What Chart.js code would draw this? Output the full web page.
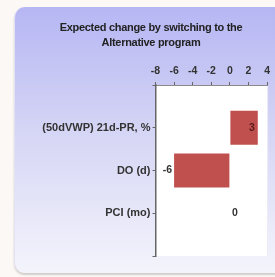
<!DOCTYPE html>
<html>
<head>
<meta charset="utf-8">
<script src="https://cdn.jsdelivr.net/npm/chart.js@4.4.1/dist/chart.umd.min.js"></script>
<style>
    html, body { margin: 0; padding: 0; background: #fcf8f5; }
    #wrap { position: relative; width: 275px; height: 277px; overflow: hidden; }
    #card {
        position: absolute; left: 14px; top: 7px; width: 290px; height: 266px;
        border-radius: 11px;
        background: linear-gradient(to bottom, #b6b6f4 0%, #d4d4f5 45%, #f4f4fc 100%);
        box-shadow: 0 2px 2px rgba(0, 0, 0, 0.18);
        border-left: 1px solid #e2e2f0;
    }
    #chart { position: absolute; left: 0; top: 0; }
</style>
</head>
<body>
<div id="wrap">
    <div id="card"></div>
    <canvas id="chart" width="275" height="277"></canvas>
</div>
<script>
// Data
const categorias = ['', '(50dVWP) 21d-PR, %', 'DO (d)', 'PCI (mo)', ''];
const valores = [null, 3, -6, 0, null];
const tituloLinhas = ['Expected change by switching to the', 'Alternative program'];
const eixoMin = -8;
const eixoMax = 4;
const eixoPasso = 2;

const FONTE = '"Liberation Sans", Arial, sans-serif';
const corBarra = '#c0504d';

// título centrado no cartão (o cartão passa da borda direita)
const tituloCartao = {
    id: 'tituloCartao',
    afterDraw(chart) {
        const { ctx } = chart;
        ctx.save();
        ctx.font = 'bold 11px ' + FONTE;
        ctx.letterSpacing = '-0.3px';
        ctx.fillStyle = '#222222';
        ctx.textAlign = 'center';
        ctx.textBaseline = 'middle';
        tituloLinhas.forEach((linha, i) => {
            ctx.fillText(linha, 151, 27.5 + i * 15);
        });
        ctx.restore();
    }
};

// fundo branco da área do gráfico
const fundoPlot = {
    id: 'fundoPlot',
    beforeDraw(chart) {
        const { ctx, chartArea: a } = chart;
        ctx.save();
        ctx.fillStyle = '#ffffff';
        ctx.fillRect(a.left, a.top, a.right - a.left, a.bottom - a.top);
        ctx.strokeStyle = '#ececf4';
        ctx.lineWidth = 1;
        ctx.beginPath();
        ctx.moveTo(a.right + 0.5, a.top);
        ctx.lineTo(a.right + 0.5, a.bottom);
        ctx.stroke();
        ctx.restore();
    }
};

// rótulos de valor nas barras
const rotulosValor = {
    id: 'rotulosValor',
    afterDatasetsDraw(chart) {
        const { ctx } = chart;
        const meta = chart.getDatasetMeta(0);
        const zero = chart.scales.x.getPixelForValue(0);
        ctx.save();
        ctx.font = 'bold 10.5px ' + FONTE;
        ctx.textBaseline = 'middle';
        meta.data.forEach((bar, i) => {
            const v = valores[i];
            if (v === null || v === undefined) return;
            if (v > 0) {
                ctx.fillStyle = '#5a1c1c';
                ctx.textAlign = 'right';
                ctx.fillText(String(v), bar.x - 3, bar.y);
            } else if (v < 0) {
                ctx.fillStyle = '#333333';
                ctx.textAlign = 'right';
                ctx.fillText(String(v), bar.x - 2, bar.y);
            } else {
                ctx.fillStyle = '#333333';
                ctx.textAlign = 'center';
                ctx.fillText(String(v), zero + 5, bar.y);
            }
        });
        ctx.restore();
    }
};

new Chart(document.getElementById('chart'), {
    type: 'bar',
    data: {
        labels: categorias,
        datasets: [{
            data: valores,
            backgroundColor: corBarra,
            borderWidth: 0,
            barPercentage: 1,
            categoryPercentage: 0.8
        }]
    },
    options: {
        indexAxis: 'y',
        responsive: false,
        animation: false,
        layout: { padding: { left: 0, right: 5, top: 48, bottom: 21 } },
        plugins: {
            legend: { display: false },
            tooltip: { enabled: false },
            title: { display: false }
        },
        scales: {
            x: {
                position: 'top',
                min: eixoMin,
                max: eixoMax,
                ticks: {
                    stepSize: eixoPasso,
                    color: '#333333',
                    padding: 5,
                    font: { family: FONTE, size: 10.5, weight: 'bold' }
                },
                grid: { drawOnChartArea: false, tickLength: 3, color: '#666666' },
                border: { color: '#8a8a8a', width: 1 },
                afterFit(scale) { scale.height = 37; }
            },
            y: {
                offset: false,
                ticks: {
                    color: '#333333',
                    padding: 2,
                    autoSkip: false,
                    font: { family: FONTE, size: 11, weight: 'bold' }
                },
                grid: { offset: false, drawOnChartArea: false, tickLength: 3, color: '#666666' },
                border: { color: '#666666', width: 1.5 },
                afterFit(scale) { scale.width = 155.5; }
            }
        }
    },
    plugins: [fundoPlot, rotulosValor, tituloCartao]
});
</script>
</body>
</html>
